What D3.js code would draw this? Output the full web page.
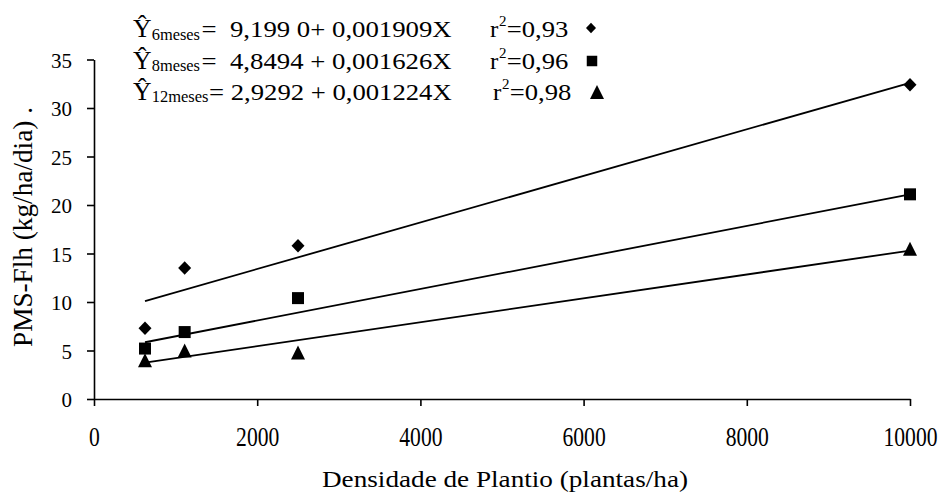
<!DOCTYPE html>
<html>
<head>
<meta charset="utf-8">
<script src="https://cdn.jsdelivr.net/npm/d3@7/dist/d3.min.js"></script>
<style>
  html, body { margin: 0; padding: 0; background: #fff; }
  svg { display: block; }
  text { font-family: 'Liberation Serif', 'Times New Roman', serif; fill: #000; white-space: pre; }
</style>
</head>
<body>
<svg id="chart" width="941" height="495"></svg>
<script>
// ---- data ----
const densities = [625, 1111, 2500, 10000];
const values6meses = [7.3, 13.5, 15.8, 32.4];
const values8meses = [5.2, 6.9, 10.4, 21.1];
const values12meses = [4.0, 5.0, 4.8, 15.5];
const seriesSubscripts = ["6meses", "8meses", "12meses"];
const equationTexts = ["=  9,199 0+ 0,001909X", "=  4,8494 + 0,001626X", "= 2,9292 + 0,001224X"];
const r2Texts = ["=0,93", "=0,96", "=0,98"];
// fitted trend lines as drawn: value at first and last density
const trendStartValues = [10.1, 5.85, 3.75];
const trendEndValues = [32.6, 21.1, 15.3];
const xTickValues = [0, 2000, 4000, 6000, 8000, 10000];
const yTickValues = [0, 5, 10, 15, 20, 25, 30, 35];
const xTitle = "Densidade de Plantio (plantas/ha)";
const yTitle = "PMS-Flh (kg/ha/dia) .";

const series = [values6meses, values8meses, values12meses];

// ---- layout ----
const svg = d3.select("#chart");
const x = d3.scaleLinear().domain([0, 10000]).range([94, 910]);
const y = d3.scaleLinear().domain([0, 35]).range([399, 59.5]);

// symbols (bbox-centred), size = width in px
const diamondType = { draw(ctx, s) { const w = s / 2, h = s * 0.52; ctx.moveTo(0, -h); ctx.lineTo(w, 0); ctx.lineTo(0, h); ctx.lineTo(-w, 0); ctx.closePath(); } };
const squareType = { draw(ctx, s) { const h = s / 2; ctx.rect(-h, -h, s, s); } };
const triangleType = { draw(ctx, s) { const h = s / 2; ctx.moveTo(0, -h); ctx.lineTo(h, h); ctx.lineTo(-h, h); ctx.closePath(); } };
const symbolTypes = [diamondType, squareType, triangleType];
const plotSizes = [13, 12, 14];
const legendSizes = [10, 10.5, 14];

// axes
const yAxis = d3.axisLeft(y).tickValues(yTickValues).tickSize(7).tickSizeOuter(0).tickPadding(4);
const gy = svg.append("g").attr("transform", "translate(94,0)").call(yAxis);
gy.selectAll("path, line").attr("stroke", "#000").attr("stroke-width", 1.6);
gy.selectAll("text").attr("font-size", 21).attr("x", -22).attr("dy", "0.36em")
  .style("font-family", "'Liberation Serif', serif");

const xAxis = d3.axisBottom(x).tickValues(xTickValues).tickSize(7).tickSizeOuter(0).tickFormat(d3.format("d"));
const gx = svg.append("g").attr("transform", "translate(0,399)").call(xAxis);
gx.selectAll("path, line").attr("stroke", "#000").attr("stroke-width", 1.6);
gx.selectAll("text").attr("font-size", 27).attr("y", 47).attr("dy", 0)
  .attr("transform", "scale(0.8,1)")
  .style("font-family", "'Liberation Serif', serif");

// trend lines
series.forEach((vals, i) => {
  svg.append("line")
    .attr("x1", x(densities[0])).attr("y1", y(trendStartValues[i]))
    .attr("x2", x(densities[densities.length - 1])).attr("y2", y(trendEndValues[i]))
    .attr("stroke", "#000").attr("stroke-width", 1.8);
});

// points
series.forEach((vals, i) => {
  const sym = d3.symbol().type(symbolTypes[i]).size(plotSizes[i]);
  svg.append("g").selectAll("path").data(vals).join("path")
    .attr("d", sym)
    .attr("transform", (d, j) => `translate(${x(densities[j])},${y(d)})`)
    .attr("fill", "#000");
});

// axis titles
svg.append("text").attr("x", 505).attr("y", 487).attr("text-anchor", "middle")
  .attr("font-size", 23).attr("textLength", 366).attr("lengthAdjust", "spacingAndGlyphs").text(xTitle);
svg.append("text").attr("transform", "translate(32,227) rotate(-90)").attr("text-anchor", "middle")
  .attr("font-size", 27).attr("textLength", 240).attr("lengthAdjust", "spacingAndGlyphs").text(yTitle);

// legend (equations)
const rowBase = [37, 68.5, 99.5];
const subEnds = [200, 200, 208.5];
const eqStarts = [201.5, 201.5, 209];
const rStarts = [490, 490, 493];
const legendMarkerPos = [[591, 28], [592, 61], [597, 92]];
seriesSubscripts.forEach((sub, i) => {
  const b = rowBase[i];
  svg.append("text").attr("x", 133).attr("y", b).attr("font-size", 25)
    .attr("textLength", 18.5).attr("lengthAdjust", "spacingAndGlyphs").text("\u0176");
  svg.append("text").attr("x", 151.7).attr("y", b + 2.5).attr("font-size", 17)
    .attr("textLength", subEnds[i] - 151.7).attr("lengthAdjust", "spacingAndGlyphs").text(sub);
  svg.append("text").attr("x", eqStarts[i]).attr("y", b).attr("font-size", 24)
    .attr("textLength", 451.7 - eqStarts[i]).attr("lengthAdjust", "spacingAndGlyphs").text(equationTexts[i]);
  svg.append("text").attr("x", rStarts[i]).attr("y", b).attr("font-size", 24)
    .attr("textLength", 8.3).attr("lengthAdjust", "spacingAndGlyphs").text("r");
  svg.append("text").attr("x", rStarts[i] + 9).attr("y", b - 11).attr("font-size", 15)
    .text("2");
  svg.append("text").attr("x", rStarts[i] + 16.7).attr("y", b).attr("font-size", 24)
    .attr("textLength", 61.6).attr("lengthAdjust", "spacingAndGlyphs").text(r2Texts[i]);
  const sym = d3.symbol().type(symbolTypes[i]).size(legendSizes[i]);
  svg.append("path").attr("d", sym)
    .attr("transform", `translate(${legendMarkerPos[i][0]},${legendMarkerPos[i][1]})`)
    .attr("fill", "#000");
});
</script>
</body>
</html>
